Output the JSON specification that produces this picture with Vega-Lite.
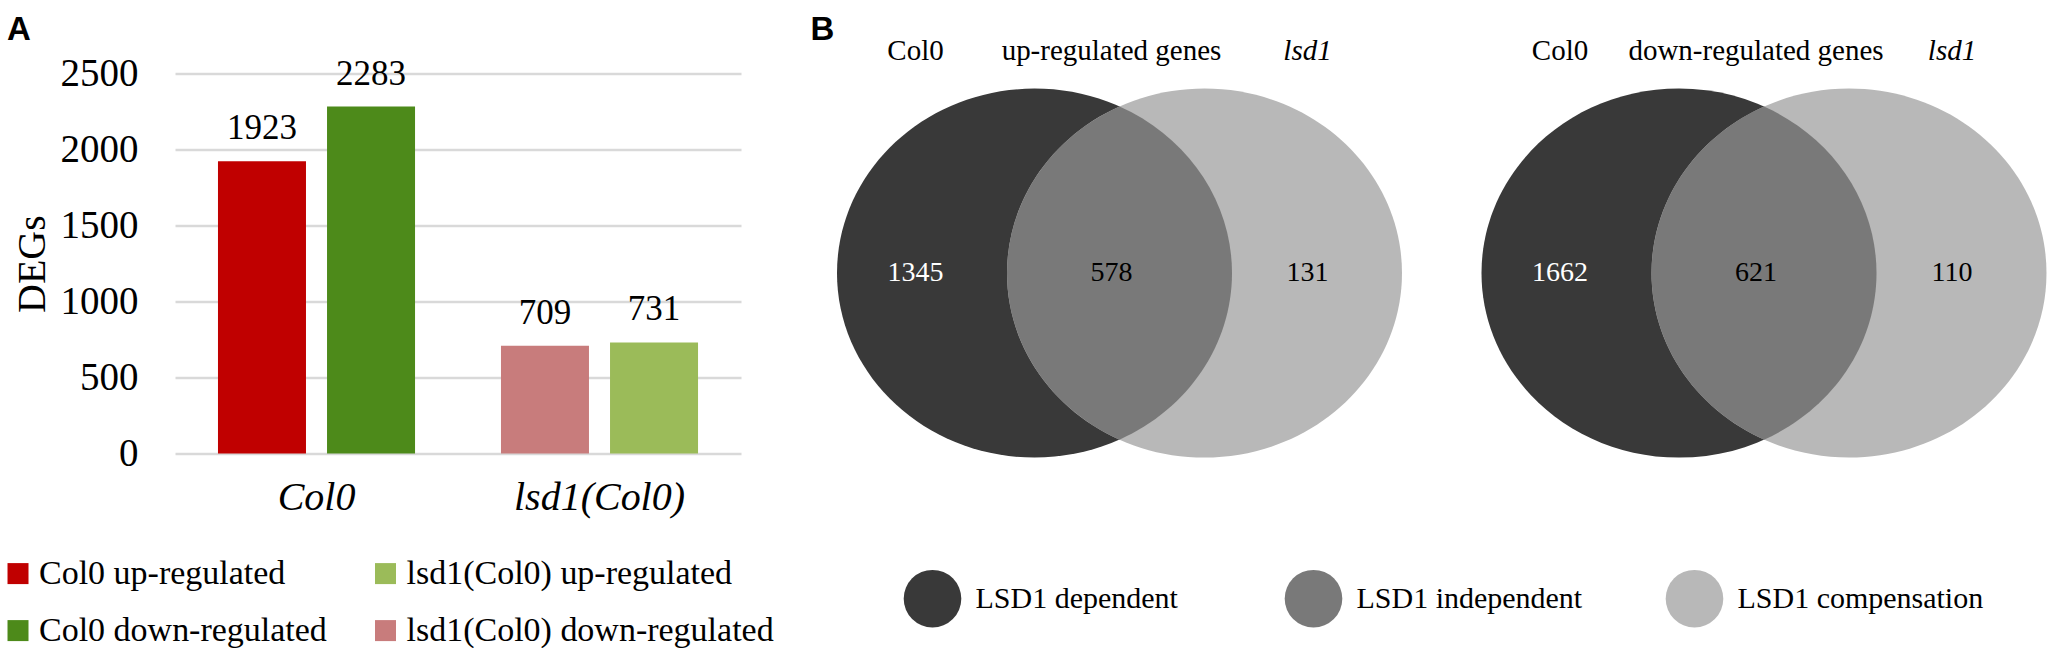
{
  "$schema": "https://vega.github.io/schema/vega-lite/v6.json",
  "background": "white",
  "padding": {"left": 1, "top": 13.6, "right": 0, "bottom": 0},
  "bounds": "flush",
  "spacing": 76.5,
  "config": {"view": {"stroke": null}},
  "resolve": {"scale": {"color": "independent", "xOffset": "independent"}, "legend": {"color": "independent"}},
  "datasets": {
    "deg": [
      {"genotype": "Col0", "direction": "up", "series": "Col0 up-regulated", "DEGs": 1923},
      {"genotype": "Col0", "direction": "down", "series": "Col0 down-regulated", "DEGs": 2283},
      {"genotype": "lsd1(Col0)", "direction": "up", "series": "lsd1(Col0) down-regulated", "DEGs": 709},
      {"genotype": "lsd1(Col0)", "direction": "down", "series": "lsd1(Col0) up-regulated", "DEGs": 731}
    ],
    "venn": [
      {"comparison": "up-regulated genes", "region": "LSD1 dependent", "genes": 1345},
      {"comparison": "up-regulated genes", "region": "LSD1 independent", "genes": 578},
      {"comparison": "up-regulated genes", "region": "LSD1 compensation", "genes": 131},
      {"comparison": "down-regulated genes", "region": "LSD1 dependent", "genes": 1662},
      {"comparison": "down-regulated genes", "region": "LSD1 independent", "genes": 621},
      {"comparison": "down-regulated genes", "region": "LSD1 compensation", "genes": 110}
    ]
  },
  "hconcat": [
    {
      "width": 566,
      "height": 380,
      "title": {"text": "A", "anchor": "start", "frame": "bounds", "offset": 7.4, "dx": 6, "font": "Liberation Sans", "fontSize": 33, "fontWeight": "bold", "color": "black"},
      "data": {"name": "deg"},
      "encoding": {
        "x": {
          "field": "genotype", "type": "nominal", "sort": ["Col0", "lsd1(Col0)"],
          "scale": {"type": "band", "paddingInner": 0, "paddingOuter": 0},
          "axis": {"title": null, "domain": false, "ticks": false, "tickSize": 0, "labelAngle": 0, "labelFont": "Liberation Serif", "labelFontStyle": "italic", "labelFontSize": 40, "labelColor": "black", "labelPadding": 24}
        },
        "xOffset": {"field": "direction", "type": "nominal", "sort": ["up", "down"], "scale": {"type": "band", "paddingInner": 0.193, "paddingOuter": 0.394}},
        "y": {
          "field": "DEGs", "type": "quantitative", "scale": {"domain": [0, 2500]},
          "axis": {"values": [0, 500, 1000, 1500, 2000, 2500], "format": "d", "domain": false, "ticks": false, "tickSize": 0, "grid": true, "gridColor": "#d9d9d9", "gridWidth": 2.5, "labelFont": "Liberation Serif", "labelFontSize": 39, "labelColor": "black", "labelPadding": 37, "title": "DEGs", "titleFont": "Liberation Serif", "titleFontSize": 40, "titleFontWeight": "normal", "titleColor": "black", "titlePadding": 8}
        }
      },
      "layer": [
        {
          "mark": {"type": "bar"},
          "encoding": {
            "color": {
              "field": "series", "type": "nominal",
              "scale": {
                "domain": ["Col0 up-regulated", "Col0 down-regulated", "lsd1(Col0) up-regulated", "lsd1(Col0) down-regulated"],
                "range": ["#c00000", "#4d8a1a", "#9bbb59", "#c87c7c"]
              },
              "legend": {"title": null, "orient": "none", "legendX": -174, "legendY": 483, "columns": 2, "columnPadding": 41.5, "rowPadding": 23, "symbolType": "square", "symbolSize": 441, "symbolStrokeWidth": 0, "labelFont": "Liberation Serif", "labelFontSize": 34, "labelColor": "black", "labelOffset": 4, "labelLimit": 600, "padding": 0}
            }
          }
        },
        {
          "mark": {"type": "text", "baseline": "alphabetic", "dy": -22, "font": "Liberation Serif", "fontSize": 35, "color": "black"},
          "encoding": {"text": {"field": "DEGs", "type": "quantitative", "format": "d"}}
        }
      ]
    },
    {
      "width": 1232.5,
      "height": 399,
      "title": {"text": "B", "anchor": "start", "frame": "bounds", "offset": -10.1, "dx": -7, "font": "Liberation Sans", "fontSize": 33, "fontWeight": "bold", "color": "black"},
      "data": {"name": "venn"},
      "encoding": {
        "x": {"field": "comparison", "type": "nominal", "sort": ["up-regulated genes", "down-regulated genes"], "scale": {"type": "band", "paddingInner": 0.0877, "paddingOuter": 0}, "axis": null},
        "xOffset": {"field": "region", "type": "nominal", "scale": {"type": "band", "domain": ["LSD1 dependent", "LSD1 independent", "LSD1 compensation"], "paddingInner": 0, "paddingOuter": 0}}
      },
      "layer": [
        {
          "transform": [{"filter": "datum.region === 'LSD1 dependent'"}],
          "mark": {"type": "point", "shape": "M0.645,-1C1.2362,-1 1.7155,-0.5523 1.7155,0C1.7155,0.5523 1.2362,1 0.645,1C0.0538,1 -0.4255,0.5523 -0.4255,0C-0.4255,-0.5523 0.0538,-1 0.645,-1Z", "size": 136161, "filled": true, "opacity": 1, "strokeWidth": 0},
          "encoding": {
            "color": {
              "field": "region", "type": "nominal",
              "scale": {"domain": ["LSD1 dependent", "LSD1 independent", "LSD1 compensation"], "range": ["#393939", "#797979", "#b8b8b8"]},
              "legend": {"title": null, "orient": "none", "legendX": 86, "legendY": 496, "direction": "horizontal", "gridAlign": "all", "columnPadding": 63, "symbolType": "circle", "symbolSize": 3318, "symbolStrokeWidth": 0, "symbolOpacity": 1, "labelFont": "Liberation Serif", "labelFontSize": 30, "labelColor": "black", "labelOffset": 14, "labelLimit": 400, "padding": 0}
            }
          }
        },
        {
          "transform": [{"filter": "datum.region === 'LSD1 compensation'"}],
          "mark": {"type": "point", "shape": "M-0.5583,-1C0.0329,-1 0.5122,-0.5523 0.5122,0C0.5122,0.5523 0.0329,1 -0.5583,1C-1.1495,1 -1.6288,0.5523 -1.6288,0C-1.6288,-0.5523 -1.1495,-1 -0.5583,-1Z", "size": 136161, "filled": true, "opacity": 1, "strokeWidth": 0},
          "encoding": {
            "color": {"field": "region", "type": "nominal"}
          }
        },
        {
          "transform": [{"filter": "datum.region === 'LSD1 independent'"}],
          "mark": {"type": "point", "shape": "M0.0434,-0.9027C0.416,-0.7367 0.6532,-0.3856 0.6532,0C0.6532,0.3856 0.416,0.7367 0.0434,0.9027C-0.3292,0.7367 -0.5664,0.3856 -0.5664,0C-0.5664,-0.3856 -0.3292,-0.7367 0.0434,-0.9027Z", "size": 136161, "filled": true, "opacity": 1, "strokeWidth": 0},
          "encoding": {
            "color": {"field": "region", "type": "nominal"}
          }
        },
        {
          "mark": {"type": "text", "font": "Liberation Serif", "fontSize": 28, "baseline": "middle"},
          "encoding": {
            "text": {"field": "genes", "type": "quantitative", "format": "d"},
            "color": {"condition": {"test": "datum.region === 'LSD1 dependent'", "value": "white"}, "value": "black"}
          }
        },
        {
          "transform": [{"filter": "datum.region === 'LSD1 dependent'"}],
          "mark": {"type": "text", "text": "Col0", "font": "Liberation Serif", "fontSize": 29, "baseline": "middle", "dy": -222, "color": "black"}
        },
        {
          "transform": [{"filter": "datum.region === 'LSD1 independent'"}],
          "mark": {"type": "text", "font": "Liberation Serif", "fontSize": 29, "baseline": "middle", "dy": -222, "color": "black"},
          "encoding": {
            "text": {"field": "comparison", "type": "nominal"}
          }
        },
        {
          "transform": [{"filter": "datum.region === 'LSD1 compensation'"}],
          "mark": {"type": "text", "text": "lsd1", "font": "Liberation Serif", "fontStyle": "italic", "fontSize": 29, "baseline": "middle", "dy": -222, "color": "black"}
        }
      ]
    }
  ]
}
